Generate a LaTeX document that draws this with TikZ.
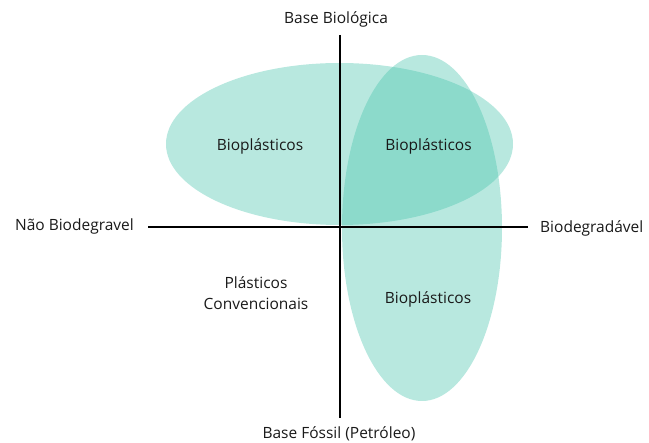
\documentclass[tikz,border=0pt]{standalone}
\usepackage{fontspec}
\setmainfont{Open Sans}
\definecolor{teal1}{RGB}{68,195,171}
\begin{document}
\begin{tikzpicture}[x=1pt,y=-1pt,
  blob/.style={fill=teal1,fill opacity=0.38,draw=none},
  axis/.style={line width=2.2pt,black},
  lbl/.style={font=\fontsize{15.5}{21.5}\selectfont,text=black!90,inner sep=0pt,align=center}]
\useasboundingbox (0,0) rectangle (649,443);
\fill[blob] (339.5,144) ellipse [x radius=173.5, y radius=81];
\fill[blob] (422,228) ellipse [x radius=80, y radius=173];
\coordinate (vt) at (340,35);
\coordinate (vb) at (340,418);
\coordinate (hl) at (148,227);
\coordinate (hr) at (528,227);
\draw[axis] (vt) -- (vb);
\draw[axis] (hl) -- (hr);
\node[lbl] (top) at (336,19) {Base Biológica};
\node[lbl] (bot) at (339,434) {Base Fóssil (Petróleo)};
\node[lbl,anchor=east] (left) at (134,226) {Não Biodegravel};
\node[lbl,anchor=west] (right) at (540,228) {Biodegradável};
\node[lbl] (b1) at (260,146) {Bioplásticos};
\node[lbl] (b2) at (428.5,146) {Bioplásticos};
\node[lbl] (b3) at (428,299) {Bioplásticos};
\node[lbl,align=center] (pc) at (256,293) {Plásticos\\Convencionais};
\end{tikzpicture}
\end{document}
